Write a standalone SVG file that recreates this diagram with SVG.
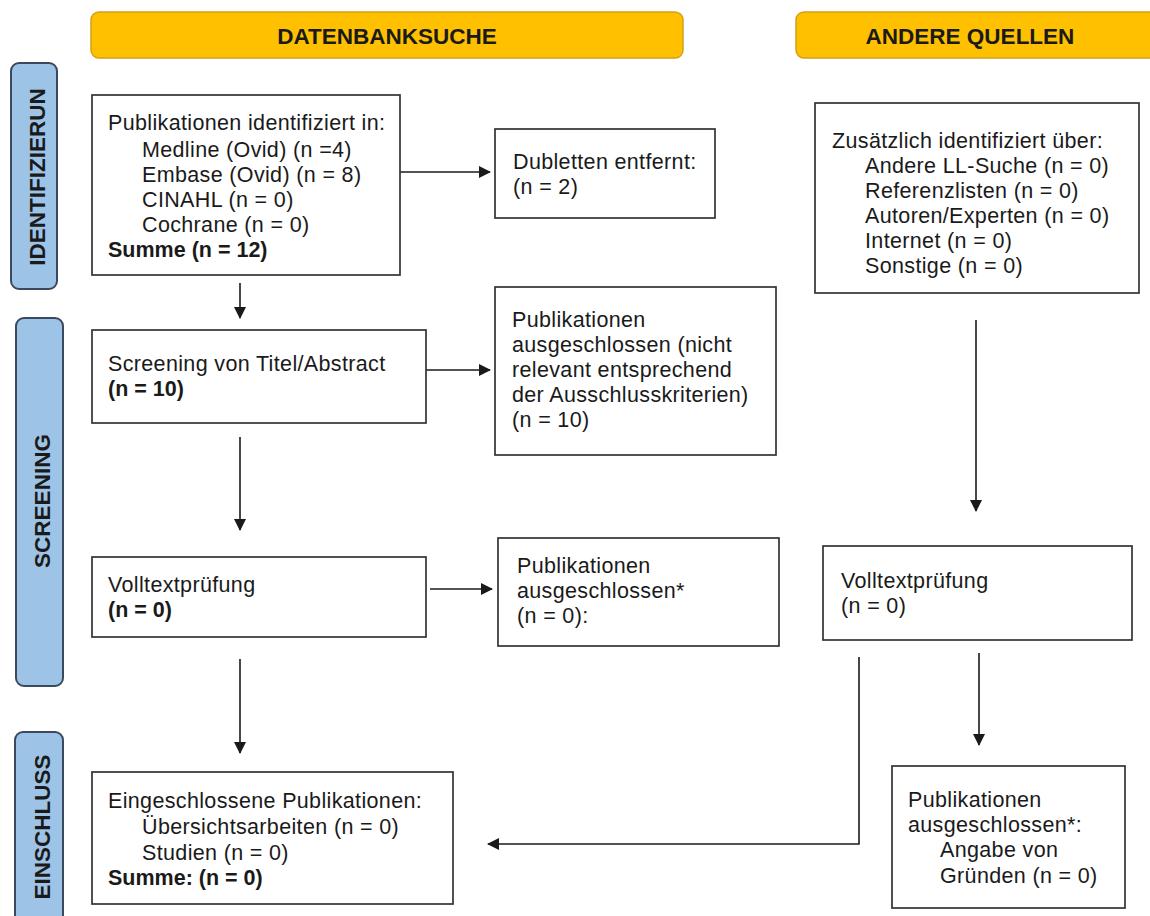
<svg xmlns="http://www.w3.org/2000/svg" width="1150" height="916" viewBox="0 0 1150 916">
<defs>
<style>
.bg{fill:#ffffff}
.hdr{fill:#FFC000;stroke:#D4A017;stroke-width:1.5}
.side{fill:#9DC3E6;stroke:#3A4A5C;stroke-width:2}
.box{fill:#ffffff;stroke:#333333;stroke-width:1.7}
.t{font-family:"Liberation Sans",Arial,sans-serif;font-size:21.5px;letter-spacing:0.35px;fill:#1a1a1a}
.b{font-weight:bold;letter-spacing:0px}
.ht{font-family:"Liberation Sans",Arial,sans-serif;font-size:22.5px;font-weight:bold;fill:#1a1a1a;text-anchor:middle}
.st{font-family:"Liberation Sans",Arial,sans-serif;font-size:22.5px;font-weight:bold;fill:#1a1a1a;text-anchor:middle}
.c{fill:none;stroke:#1a1a1a;stroke-width:1.6}
</style>
<marker id="ah" markerUnits="userSpaceOnUse" markerWidth="12" markerHeight="12" refX="11" refY="6" orient="auto">
<path d="M0,0 L12,6 L0,12 z" fill="#1a1a1a"/>
</marker>
</defs>
<rect class="bg" x="0" y="0" width="1150" height="916"/>

<g id="header-datenbank">
<rect class="hdr" x="91" y="12" width="592" height="46" rx="8"/>
<text class="ht" x="387" y="44">DATENBANKSUCHE</text>
</g>
<g id="header-andere">
<rect class="hdr" x="796" y="12" width="370" height="46" rx="8"/>
<text class="ht" x="970" y="44">ANDERE QUELLEN</text>
</g>

<g id="side-identifizierung">
<rect class="side" x="11" y="63" width="46" height="226" rx="8"/>
<text class="st" transform="translate(45,177) rotate(-90)">IDENTIFIZIERUN</text>
</g>
<g id="side-screening">
<rect class="side" x="16" y="318" width="47" height="368" rx="8"/>
<text class="st" transform="translate(50,501) rotate(-90)">SCREENING</text>
</g>
<g id="side-einschluss">
<rect class="side" x="15" y="732" width="48" height="200" rx="8"/>
<text class="st" transform="translate(50,827) rotate(-90)">EINSCHLUSS</text>
</g>

<g id="connectors">
<line class="c" x1="400" y1="172" x2="490" y2="172" marker-end="url(#ah)"/>
<line class="c" x1="240" y1="283" x2="240" y2="318" marker-end="url(#ah)"/>
<line class="c" x1="426" y1="370" x2="490" y2="370" marker-end="url(#ah)"/>
<line class="c" x1="240" y1="437" x2="240" y2="530" marker-end="url(#ah)"/>
<line class="c" x1="430" y1="589" x2="492" y2="589" marker-end="url(#ah)"/>
<line class="c" x1="976" y1="320" x2="976" y2="511" marker-end="url(#ah)"/>
<line class="c" x1="979" y1="653" x2="979" y2="745" marker-end="url(#ah)"/>
<line class="c" x1="240" y1="659" x2="240" y2="753" marker-end="url(#ah)"/>
<polyline class="c" points="859,657 859,844 488,844" marker-end="url(#ah)"/>
</g>

<g id="node-identifiziert">
<rect class="box" x="92" y="95" width="308" height="180"/>
<text class="t" x="108" y="130">Publikationen identifiziert in:</text>
<text class="t" x="142" y="157">Medline (Ovid) (n =4)</text>
<text class="t" x="142" y="182">Embase (Ovid) (n = 8)</text>
<text class="t" x="142" y="207">CINAHL (n = 0)</text>
<text class="t" x="142" y="232">Cochrane (n = 0)</text>
<text class="t b" x="108" y="257">Summe (n = 12)</text>
</g>

<g id="node-dubletten">
<rect class="box" x="495" y="129" width="220" height="89"/>
<text class="t" x="513" y="169">Dubletten entfernt:</text>
<text class="t" x="513" y="194">(n = 2)</text>
</g>

<g id="node-zusaetzlich">
<rect class="box" x="815" y="103" width="324" height="190"/>
<text class="t" x="832" y="148">Zusätzlich identifiziert über:</text>
<text class="t" x="865" y="173">Andere LL-Suche (n = 0)</text>
<text class="t" x="865" y="198">Referenzlisten (n = 0)</text>
<text class="t" x="865" y="223">Autoren/Experten (n = 0)</text>
<text class="t" x="865" y="248">Internet (n = 0)</text>
<text class="t" x="865" y="273">Sonstige (n = 0)</text>
</g>

<g id="node-screening">
<rect class="box" x="92" y="330" width="334" height="93"/>
<text class="t" x="108" y="371">Screening von Titel/Abstract</text>
<text class="t b" x="108" y="396">(n = 10)</text>
</g>

<g id="node-ausgeschlossen1">
<rect class="box" x="495" y="287" width="281" height="168"/>
<text class="t" x="512" y="327">Publikationen</text>
<text class="t" x="512" y="352">ausgeschlossen (nicht</text>
<text class="t" x="512" y="377">relevant entsprechend</text>
<text class="t" x="512" y="402">der Ausschlusskriterien)</text>
<text class="t" x="512" y="427">(n = 10)</text>
</g>

<g id="node-volltext-links">
<rect class="box" x="92" y="557" width="334" height="80"/>
<text class="t" x="108" y="592">Volltextprüfung</text>
<text class="t b" x="108" y="617">(n = 0)</text>
</g>

<g id="node-ausgeschlossen2">
<rect class="box" x="498" y="538" width="281" height="108"/>
<text class="t" x="517" y="573">Publikationen</text>
<text class="t" x="517" y="598">ausgeschlossen*</text>
<text class="t" x="517" y="623">(n = 0):</text>
</g>

<g id="node-volltext-rechts">
<rect class="box" x="823" y="546" width="309" height="94"/>
<text class="t" x="841" y="588">Volltextprüfung</text>
<text class="t" x="841" y="613">(n = 0)</text>
</g>

<g id="node-eingeschlossen">
<rect class="box" x="92" y="772" width="361" height="132"/>
<text class="t" x="108" y="808">Eingeschlossene Publikationen:</text>
<text class="t" x="142" y="834">Übersichtsarbeiten (n = 0)</text>
<text class="t" x="142" y="860">Studien (n = 0)</text>
<text class="t b" x="108" y="885">Summe: (n = 0)</text>
</g>

<g id="node-ausgeschlossen3">
<rect class="box" x="892" y="766" width="233" height="142"/>
<text class="t" x="908" y="807">Publikationen</text>
<text class="t" x="908" y="832">ausgeschlossen*:</text>
<text class="t" x="940" y="857">Angabe von</text>
<text class="t" x="940" y="883">Gründen (n = 0)</text>
</g>
</svg>
